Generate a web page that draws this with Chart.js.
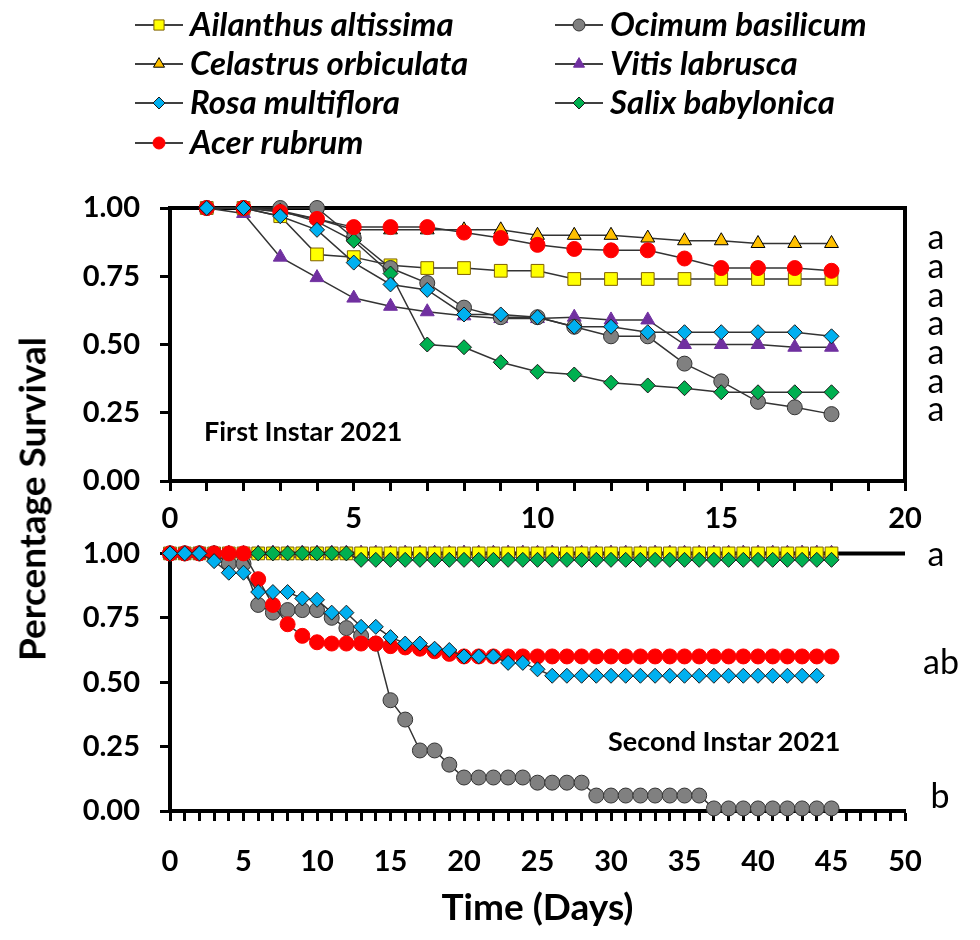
<!DOCTYPE html>
<html>
<head>
<meta charset="utf-8">
<script src="https://cdn.jsdelivr.net/npm/chart.js@4.4.1/dist/chart.umd.min.js"></script>
<style>
  body { margin: 0; background: #fff; }
  #wrap { position: relative; width: 980px; height: 940px; overflow: hidden; }
  canvas { position: absolute; left: 0; }
  #ytitle {
    position: absolute; left: 31px; top: 499px;
    transform: translate(-50%, -50%) rotate(-90deg);
    font: bold 37px Lato, sans-serif; white-space: nowrap; color: #000;
  }
</style>
</head>
<body>
<div id="wrap">
  <canvas id="topChart" width="980" height="545" style="top:0"></canvas>
  <canvas id="bottomChart" width="980" height="424" style="top:516px"></canvas>
  <div id="ytitle">Percentage Survival</div>
</div>
<script>
// ---- data ----
const names = ['Ailanthus altissima', 'Celastrus orbiculata', 'Rosa multiflora', 'Acer rubrum',
  'Ocimum basilicum', 'Vitis labrusca', 'Salix babylonica'];

const yTicks = [0, 0.25, 0.5, 0.75, 1];
const xLabels1 = [0, 5, 10, 15, 20];
const xLabels2 = [0, 5, 10, 15, 20, 25, 30, 35, 40, 45, 50];

// first instar, days 1-18
const days1 = [1, 2, 3, 4, 5, 6, 7, 8, 9, 10, 11, 12, 13, 14, 15, 16, 17, 18];
const ailanthus1 = [1.00, 1.00, 0.97, 0.83, 0.82, 0.79, 0.78, 0.78, 0.77, 0.77, 0.74, 0.74, 0.74, 0.74, 0.74, 0.74, 0.74, 0.74];
const celastrus1 = [1.00, 1.00, 0.99, 0.96, 0.92, 0.92, 0.92, 0.92, 0.92, 0.90, 0.90, 0.90, 0.89, 0.88, 0.88, 0.87, 0.87, 0.87];
const rosa1 = [1.00, 1.00, 0.97, 0.92, 0.80, 0.72, 0.70, 0.61, 0.61, 0.60, 0.565, 0.565, 0.545, 0.545, 0.545, 0.545, 0.545, 0.53];
const acer1 = [1.00, 1.00, 0.985, 0.96, 0.93, 0.93, 0.93, 0.91, 0.89, 0.865, 0.85, 0.845, 0.845, 0.815, 0.78, 0.78, 0.78, 0.77];
const ocimum1 = [1.00, 1.00, 1.00, 1.00, 0.89, 0.78, 0.725, 0.635, 0.60, 0.60, 0.565, 0.53, 0.53, 0.43, 0.365, 0.29, 0.27, 0.245];
const vitis1 = [1.00, 0.98, 0.82, 0.745, 0.67, 0.64, 0.62, 0.605, 0.595, 0.595, 0.60, 0.59, 0.59, 0.50, 0.50, 0.50, 0.49, 0.49];
const salix1 = [1.00, 1.00, 0.99, 0.95, 0.88, 0.76, 0.50, 0.49, 0.435, 0.40, 0.39, 0.36, 0.35, 0.34, 0.325, 0.325, 0.325, 0.325];

// second instar, days 0-45
const days2 = [0, 1, 2, 3, 4, 5, 6, 7, 8, 9, 10, 11, 12, 13, 14, 15, 16, 17, 18, 19, 20, 21, 22,
  23, 24, 25, 26, 27, 28, 29, 30, 31, 32, 33, 34, 35, 36, 37, 38, 39, 40, 41, 42, 43, 44, 45];
const ailanthus2 = [1, 1, 1, 1, 1, 1, 1, 1, 1, 1, 1, 1, 1, 1, 1, 1, 1, 1, 1, 1, 1, 1, 1,
  1, 1, 1, 1, 1, 1, 1, 1, 1, 1, 1, 1, 1, 1, 1, 1, 1, 1, 1, 1, 1, 1, 1];
const celastrus2 = [1, 1, 1, 1, 1, 1, 1, 1, 1, 1, 1, 1, 1, 1, 1, 1, 1, 1, 1, 1, 1, 1, 1,
  1, 1, 1, 1, 1, 1, 1, 1, 1, 1, 1, 1, 1, 1, 1, 1, 1, 1, 1, 1, 1, 1, 1];
const rosa2 = [1.00, 1.00, 1.00, 0.97, 0.925, 0.925, 0.85, 0.85, 0.85, 0.825, 0.82, 0.77, 0.77, 0.715, 0.715,
  0.675, 0.65, 0.65, 0.63, 0.625, 0.60, 0.60, 0.60, 0.575, 0.575, 0.55, 0.525, 0.525, 0.525, 0.525,
  0.525, 0.525, 0.525, 0.525, 0.525, 0.525, 0.525, 0.525, 0.525, 0.525, 0.525, 0.525, 0.525, 0.525, 0.525];
const acer2 = [1.00, 1.00, 1.00, 1.00, 1.00, 1.00, 0.90, 0.80, 0.725, 0.68, 0.655, 0.65, 0.65, 0.65, 0.65,
  0.64, 0.635, 0.63, 0.62, 0.61, 0.60, 0.60, 0.60, 0.60, 0.60, 0.60, 0.60, 0.60, 0.60, 0.60,
  0.60, 0.60, 0.60, 0.60, 0.60, 0.60, 0.60, 0.60, 0.60, 0.60, 0.60, 0.60, 0.60, 0.60, 0.60, 0.60];
const ocimum2 = [1.00, 1.00, 1.00, 1.00, 0.96, 0.96, 0.80, 0.77, 0.78, 0.78, 0.78, 0.75, 0.71, 0.68, 0.65,
  0.43, 0.355, 0.235, 0.235, 0.18, 0.13, 0.13, 0.13, 0.13, 0.13, 0.11, 0.11, 0.11, 0.11,
  0.06, 0.06, 0.06, 0.06, 0.06, 0.06, 0.06, 0.06,
  0.01, 0.01, 0.01, 0.01, 0.01, 0.01, 0.01, 0.01, 0.01];
const vitis2 = [1, 1, 1, 1, 1, 1, 1, 1, 1, 1, 1, 1, 1, 1, 1, 1, 1, 1, 1, 1, 1, 1, 1,
  1, 1, 1, 1, 1, 1, 1, 1, 1, 1, 1, 1, 1, 1, 1, 1, 1, 1, 1, 1, 1, 1, 1];
const salix2 = [1, 1, 1, 1, 1, 1, 1, 1, 1, 1, 1, 1, 1, 0.975, 0.975, 0.975, 0.975, 0.975, 0.975, 0.975,
  0.975, 0.975, 0.975, 0.975, 0.975, 0.975, 0.975, 0.975, 0.975, 0.975, 0.975, 0.975, 0.975,
  0.975, 0.975, 0.975, 0.975, 0.975, 0.975, 0.975, 0.975, 0.975, 0.975, 0.975, 0.975, 0.975];

// ---- styles ----
const markers = [
  { pointStyle: 'rect', pointRadius: 9, pointBackgroundColor: '#FFFF00', pointBorderColor: '#7F6000', order: 5 },
  { pointStyle: 'triangle', pointRadius: 8, pointBackgroundColor: '#FFC000', pointBorderColor: '#000000', order: 7 },
  { pointStyle: 'rectRot', pointRadius: 7.5, pointBackgroundColor: '#00B0F0', pointBorderColor: '#1a1a1a', order: 1 },
  { pointStyle: 'circle', pointRadius: 7.5, pointBackgroundColor: '#FF0000', pointBorderColor: '#FF0000', order: 2 },
  { pointStyle: 'circle', pointRadius: 7.5, pointBackgroundColor: '#808080', pointBorderColor: '#333333', order: 4 },
  { pointStyle: 'triangle', pointRadius: 8, pointBackgroundColor: '#7030A0', pointBorderColor: '#7030A0', order: 6 },
  { pointStyle: 'rectRot', pointRadius: 7.5, pointBackgroundColor: '#00B050', pointBorderColor: '#1a1a1a', order: 3 }
];

Chart.defaults.font.family = 'Lato, sans-serif';
Chart.defaults.color = '#000';

function makeSets(days, series) {
  return series.map((vals, i) => ({
    label: names[i],
    data: vals.map((v, j) => ({ x: days[j], y: v })),
    borderColor: '#333333',
    borderWidth: 1.5,
    pointBorderWidth: 1,
    clip: false,
    ...markers[i]
  }));
}

function axisX(max, labels, height, pad, title) {
  return {
    type: 'linear', min: 0, max: max,
    afterFit: s => { s.height = height; },
    ticks: {
      stepSize: 1, maxTicksLimit: 100, autoSkip: false, maxRotation: 0, padding: pad,
      font: { size: 29, weight: 'bold' },
      callback: v => labels.includes(v) ? String(v) : ''
    },
    grid: { drawOnChartArea: false, tickLength: 10, tickWidth: 3, tickColor: '#000' },
    border: { color: '#000', width: 4 },
    title: title
  };
}

function axisY() {
  return {
    min: 0, max: 1,
    afterFit: s => { s.width = 170; },
    afterBuildTicks: s => { s.ticks = yTicks.map(v => ({ value: v })); },
    ticks: { padding: 20, font: { size: 29, weight: 'bold' }, callback: v => v.toFixed(2) },
    grid: { drawOnChartArea: false, tickLength: 10, tickWidth: 3, tickColor: '#000' },
    border: { color: '#000', width: 4 }
  };
}

// box lines that the axes do not draw
const framePlugin = {
  id: 'frame',
  beforeDatasetsDraw(chart, args, opts) {
    const { ctx, chartArea: a } = chart;
    ctx.save();
    ctx.strokeStyle = '#000';
    ctx.lineWidth = 4;
    ctx.beginPath();
    ctx.moveTo(a.left, a.top);
    ctx.lineTo(a.right, a.top);
    if (opts.right) ctx.lineTo(a.right, a.bottom + 2);
    ctx.stroke();
    ctx.restore();
  }
};

// free text: panel names and significance letters
const notesPlugin = {
  id: 'notes',
  afterDraw(chart, args, opts) {
    const ctx = chart.ctx;
    ctx.save();
    ctx.fillStyle = '#000';
    ctx.textBaseline = 'middle';
    (opts.items || []).forEach(n => {
      ctx.font = n.font;
      ctx.textAlign = n.align || 'left';
      ctx.fillText(n.text, n.x, n.y);
    });
    ctx.restore();
  }
};

// two-column legend above the top panel
const legendPlugin = {
  id: 'colLegend',
  afterDraw(chart) {
    const ctx = chart.ctx;
    const cols = [135, 555];
    const rows = [25, 64, 103, 143];
    ctx.save();
    chart.data.datasets.forEach((ds, i) => {
      const x = cols[i < 4 ? 0 : 1];
      const y = rows[i < 4 ? i : i - 4];
      ctx.strokeStyle = '#000';
      ctx.lineWidth = 1.5;
      ctx.beginPath();
      ctx.moveTo(x, y);
      ctx.lineTo(x + 48, y);
      ctx.stroke();
      ctx.fillStyle = ds.pointBackgroundColor;
      ctx.strokeStyle = ds.pointBorderColor;
      ctx.lineWidth = 1;
      Chart.helpers.drawPoint(ctx, {
        pointStyle: ds.pointStyle, radius: ds.pointRadius * 0.8, rotation: 0, borderWidth: 1
      }, x + 24, y);
      ctx.fillStyle = '#000';
      ctx.font = 'italic bold 33px Lato, sans-serif';
      ctx.textBaseline = 'middle';
      ctx.textAlign = 'left';
      ctx.fillText(ds.label, x + 55, y);
    });
    ctx.restore();
  }
};

const letterFont = '34px Lato, sans-serif';
const panelFont = 'bold 27px Lato, sans-serif';

new Chart(document.getElementById('topChart'), {
  type: 'line',
  data: { datasets: makeSets(days1, [ailanthus1, celastrus1, rosa1, acer1, ocimum1, vitis1, salix1]) },
  options: {
    responsive: false, animation: false,
    layout: { padding: { left: 0, right: 75, top: 208, bottom: 0 } },
    plugins: {
      legend: { display: false }, tooltip: { enabled: false },
      frame: { right: true },
      notes: {
        items: [
          { text: 'First Instar 2021', x: 204, y: 432, font: panelFont },
          { text: 'a', x: 936, y: 238, font: letterFont, align: 'center' },
          { text: 'a', x: 936, y: 267, font: letterFont, align: 'center' },
          { text: 'a', x: 936, y: 296, font: letterFont, align: 'center' },
          { text: 'a', x: 936, y: 324, font: letterFont, align: 'center' },
          { text: 'a', x: 936, y: 353, font: letterFont, align: 'center' },
          { text: 'a', x: 936, y: 382, font: letterFont, align: 'center' },
          { text: 'a', x: 936, y: 410, font: letterFont, align: 'center' }
        ]
      }
    },
    scales: { x: axisX(20, xLabels1, 64, 10, { display: false }), y: axisY() }
  },
  plugins: [framePlugin, notesPlugin, legendPlugin]
});

new Chart(document.getElementById('bottomChart'), {
  type: 'line',
  data: { datasets: makeSets(days2, [ailanthus2, celastrus2, rosa2, acer2, ocimum2, vitis2, salix2]) },
  options: {
    responsive: false, animation: false,
    layout: { padding: { left: 0, right: 75, top: 0, bottom: 0 } },
    plugins: {
      legend: { display: false }, tooltip: { enabled: false },
      frame: { right: false },
      notes: {
        items: [
          { text: 'Second Instar 2021', x: 608, y: 226, font: panelFont },
          { text: 'a', x: 936, y: 39, font: letterFont, align: 'center' },
          { text: 'ab', x: 941, y: 147, font: letterFont, align: 'center' },
          { text: 'b', x: 940, y: 281, font: letterFont, align: 'center' }
        ]
      }
    },
    scales: {
      x: axisX(50, xLabels2, 129, 23, {
        display: true, text: 'Time (Days)', font: { size: 37, weight: 'bold' }, padding: { top: 0, bottom: 10 }
      }),
      y: axisY()
    }
  },
  plugins: [framePlugin, notesPlugin]
});
</script>
</body>
</html>
